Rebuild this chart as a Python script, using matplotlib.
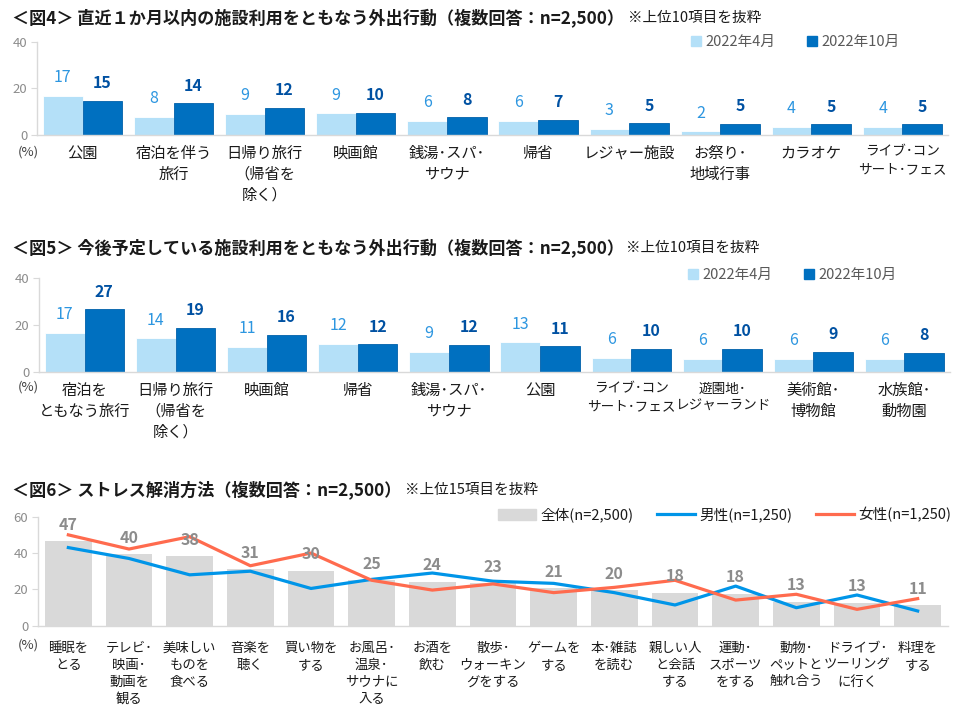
import matplotlib
matplotlib.use('Agg')
import matplotlib.pyplot as plt
from matplotlib.patches import Patch
from matplotlib.lines import Line2D
import numpy as np

plt.rcParams['font.family'] = ['Noto Sans CJK JP', 'DejaVu Sans']

# ---- data ----
fig4_labels = ['公園', '宿泊を伴う\n旅行', '日帰り旅行\n（帰省を\n除く）', '映画館', '銭湯･スパ･\nサウナ',
               '帰省', 'レジャー施設', 'お祭り･\n地域行事', 'カラオケ', 'ライブ･コン\nサート･フェス']
fig4_apr = [16.9, 7.7, 9.0, 9.3, 6.1, 6.1, 2.7, 1.6, 3.6, 3.6]
fig4_oct = [14.7, 13.6, 11.6, 9.6, 7.6, 6.6, 5.0, 4.7, 4.6, 4.6]

fig5_labels = ['宿泊を\nともなう旅行', '日帰り旅行\n（帰省を\n除く）', '映画館', '帰省', '銭湯･スパ･\nサウナ',
               '公園', 'ライブ･コン\nサート･フェス', '遊園地･\nレジャーランド', '美術館･\n博物館', '水族館･\n動物園']
fig5_apr = [16.7, 14.3, 10.6, 12.0, 8.6, 12.6, 6.1, 5.6, 5.6, 5.6]
fig5_oct = [26.6, 18.6, 15.7, 11.7, 11.6, 10.9, 9.7, 9.7, 8.6, 8.0]

fig6_labels = ['睡眠を\nとる', 'テレビ･\n映画･\n動画を\n観る', '美味しい\nものを\n食べる', '音楽を\n聴く',
               '買い物を\nする', 'お風呂･\n温泉･\nサウナに\n入る', 'お酒を\n飲む', '散歩･\nウォーキン\nグをする',
               'ゲームを\nする', '本･雑誌\nを読む', '親しい人\nと会話\nする', '運動･\nスポーツ\nをする',
               '動物･\nペットと\n触れ合う', 'ドライブ･\nツーリング\nに行く', '料理を\nする']
fig6_all = [46.6, 39.5, 38.4, 31.2, 30.3, 25.1, 24.2, 23.4, 20.6, 19.6, 18.2, 17.6, 13.2, 12.6, 11.2]
fig6_male = [43, 37, 28, 30, 20.5, 25.5, 29, 24.5, 23.3, 18.2, 11.4, 21.8, 9.9, 16.9, 8.1]
fig6_female = [50, 42.2, 49, 33, 40, 25, 19.6, 23, 18.2, 21.1, 25, 14.1, 17.3, 9, 14.9]

C_APR = '#B4E0F8'
C_OCT = '#0070C0'
C_APR_TXT = '#2D96E0'
C_OCT_TXT = '#0051A2'
C_GRAY = '#D9D9D9'
C_MALE = '#0095E8'
C_FEMALE = '#FF6B4E'

W, H = 960, 713
fig = plt.figure(figsize=(W / 100, H / 100), dpi=100)


def ax_at(left, top, right, bottom):
    return fig.add_axes([left / W, 1 - bottom / H, (right - left) / W, (bottom - top) / H])


def style_axis(ax, ymax, yticks):
    ax.set_ylim(0, ymax)
    ax.set_yticks(yticks)
    for s in ['top', 'right']:
        ax.spines[s].set_visible(False)
    for s in ['left', 'bottom']:
        ax.spines[s].set_color('#D9D9D9')
        ax.spines[s].set_linewidth(1.0)
    ax.tick_params(axis='y', colors='#D9D9D9', labelcolor='#8C8C8C', labelsize=9.5, length=4, pad=3)
    ax.tick_params(axis='x', length=0, labelsize=11, labelcolor='#1A1A1A', pad=7)


def title(y, bold, note, note_x):
    fig.text(12 / W, 1 - y / H, bold, fontsize=12.3, fontweight='bold', va='center', color='#1A1A1A')
    fig.text(note_x / W, 1 - y / H, note, fontsize=10.5, va='center', color='#1A1A1A')


def pair_panel(top, bottom, left, right, labels, apr, octo, legend_y, legend_right):
    ax = ax_at(left, top, right, bottom)
    x = np.arange(len(labels))
    w = 0.435
    ax.bar(x - w / 2, apr, w, color=C_APR, edgecolor='white', linewidth=0.6)
    ax.bar(x + w / 2, octo, w, color=C_OCT, edgecolor='#0060AA', linewidth=0.6)
    for xi, v in zip(x, apr):
        ax.annotate(f'{v:.0f}', (xi - w / 2, v), xytext=(0, 7), textcoords='offset points',
                    ha='center', va='bottom', fontsize=11.5, color=C_APR_TXT)
    for xi, v in zip(x, octo):
        ax.annotate(f'{v:.0f}', (xi + w / 2, v), xytext=(0, 7), textcoords='offset points',
                    ha='center', va='bottom', fontsize=11.5, color=C_OCT_TXT, fontweight='bold')
    ax.set_xlim(-0.5, len(labels) - 0.5)
    ax.set_xticks(x)
    ax.set_xticklabels(labels, linespacing=1.3)
    style_axis(ax, 40, [0, 20, 40])
    # long katakana labels are set a little smaller so neighbours do not touch
    for t in ax.get_xticklabels():
        if t.get_text() in ('ライブ･コン\nサート･フェス', '遊園地･\nレジャーランド'):
            t.set_fontsize(9.8)
    handles = [Patch(color=C_APR), Patch(color=C_OCT)]
    fig.legend(handles, ['2022年4月', '2022年10月'], loc='center right',
               bbox_to_anchor=(legend_right / W, 1 - legend_y / H), ncol=2, frameon=False,
               fontsize=10.5, handlelength=0.7, handleheight=0.7, handletextpad=0.3,
               columnspacing=2.2, borderpad=0, borderaxespad=0, labelcolor='#595959')
    return ax


# ---- panel 1 ----
title(18, '＜図4＞ 直近１か月以内の施設利用をともなう外出行動（複数回答：n=2,500）', '※上位10項目を抜粋', 628)
pair_panel(41.7, 135, 37, 948, fig4_labels, fig4_apr, fig4_oct, 42, 900)
fig.text(18 / W, 1 - 152 / H, '(%)', fontsize=9.5, color='#404040', va='center')

# ---- panel 2 ----
title(248, '＜図5＞ 今後予定している施設利用をともなう外出行動（複数回答：n=2,500）', '※上位10項目を抜粋', 626)
pair_panel(277.7, 372, 39, 950, fig5_labels, fig5_apr, fig5_oct, 275, 897)
fig.text(18 / W, 1 - 387 / H, '(%)', fontsize=9.5, color='#404040', va='center')

# ---- panel 3 ----
title(490, '＜図6＞ ストレス解消方法（複数回答：n=2,500）', '※上位15項目を抜粋', 405)
ax3 = ax_at(38, 516.7, 948, 625.7)
x3 = np.arange(len(fig6_labels))
ax3.bar(x3, fig6_all, 0.77, color=C_GRAY)
ax3.plot(x3, fig6_male, color=C_MALE, linewidth=2.3, zorder=3)
ax3.plot(x3, fig6_female, color=C_FEMALE, linewidth=2.3, zorder=3)
for xi, v in zip(x3, fig6_all):
    ax3.annotate(f'{v:.0f}', (xi, v), xytext=(0, 6), textcoords='offset points',
                 ha='center', va='bottom', fontsize=11.5, color='#8C8C8C', fontweight='bold', zorder=4)
ax3.set_xlim(-0.5, len(fig6_labels) - 0.5)
ax3.set_xticks(x3)
ax3.set_xticklabels(fig6_labels, linespacing=1.25)
style_axis(ax3, 60, [0, 20, 40, 60])
ax3.tick_params(axis='x', labelsize=9.6, pad=11)
fig.text(18 / W, 1 - 645 / H, '(%)', fontsize=9.5, color='#404040', va='center')
handles3 = [Patch(color=C_GRAY), Line2D([], [], color=C_MALE, linewidth=2.3),
            Line2D([], [], color=C_FEMALE, linewidth=2.3)]
fig.legend(handles3, ['全体(n=2,500)', '男性(n=1,250)', '女性(n=1,250)'], loc='center right',
           bbox_to_anchor=(951 / W, 1 - 515 / H), ncol=3, frameon=False, fontsize=10.5,
           handlelength=2.6, handleheight=0.8, handletextpad=0.3, columnspacing=1.6,
           borderpad=0, borderaxespad=0, labelcolor='#1A1A1A')

fig.savefig('out.png', dpi=100)
